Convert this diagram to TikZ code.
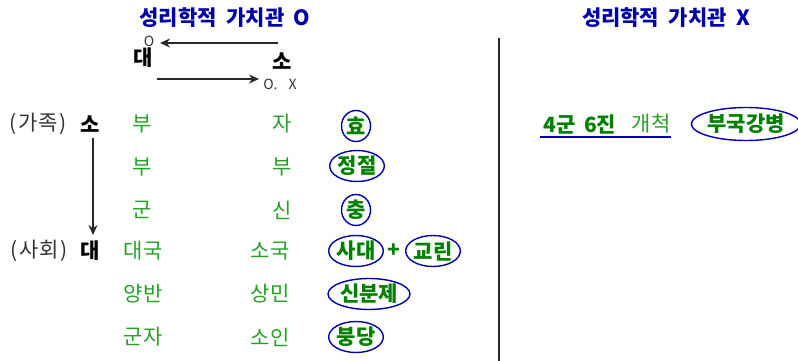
\documentclass[tikz,border=0pt]{standalone}
\usepackage{fontspec}
\setmainfont{Noto Sans CJK KR}
\setsansfont{Noto Sans CJK KR}
\usetikzlibrary{shapes.geometric,arrows.meta}
\definecolor{ttlblue}{RGB}{0,0,165}
\definecolor{elblue}{RGB}{0,0,170}
\definecolor{lgreen}{RGB}{40,160,40}
\definecolor{dgreen}{RGB}{0,128,0}
\definecolor{arr}{RGB}{40,40,40}
\begin{document}
\begin{tikzpicture}[x=1pt,y=-1pt,
  ttl/.style={text=ttlblue,font=\fontsize{21}{21}\selectfont\bfseries,inner sep=0},
  blk/.style={text=black,font=\fontsize{21}{21}\selectfont\bfseries,inner sep=0},
  gry/.style={text=black!80,font=\fontsize{21}{21}\selectfont,inner sep=0},
  sml/.style={text=black!80,font=\fontsize{14}{14}\selectfont,inner sep=0},
  gtxt/.style={text=lgreen,font=\fontsize{21}{21}\selectfont,inner sep=0},
  gbold/.style={text=dgreen,font=\fontsize{21}{21}\selectfont\bfseries,inner sep=0},
  oval/.style={ellipse,draw=elblue,line width=1.4pt,text=dgreen,font=\fontsize{21}{21}\selectfont\bfseries,inner sep=0,minimum height=31pt},
  conn/.style={draw=arr,line width=1.4pt,-{Stealth[length=10pt,width=9pt]}}
]
\useasboundingbox (0,0) rectangle (798,361);
% titles
\node[ttl] (t1) at (225,18) {성리학적\hspace{0.45em}가치관\hspace{0.45em}O};
\node[ttl] (t2) at (666,18) {성리학적\hspace{0.45em}가치관\hspace{0.45em}X};
% top relation
\node[sml] (so) at (149,41) {O};
\node[blk] (tdae) at (143,58) {대};
\node[blk] (tso) at (282,61) {소};
\node[sml] (sox) at (280,84) {O.\hspace{0.8em}X};
\coordinate (a1s) at (278,43);
\coordinate (a1e) at (160,43);
\coordinate (a2s) at (157,79);
\coordinate (a2e) at (259,79);
\draw[conn] (a1s) -- (a1e);
\draw[conn] (a2s) -- (a2e);
% left labels
\node[gry] (fam) at (38,124) {(\hspace{0.1em}가족\hspace{0.1em})};
\node[blk] (lso) at (90,124) {소};
\node[gry] (soc) at (39,251) {(\hspace{0.1em}사회\hspace{0.1em})};
\node[blk] (ldae) at (90,251) {대};
\coordinate (vs) at (93,138);
\coordinate (ve) at (93,235);
\draw[conn] (vs) -- (ve);
% columns
\node[gtxt] (c11) at (142,124) {부};
\node[gtxt] (c12) at (142,167) {부};
\node[gtxt] (c13) at (142,210) {군};
\node[gtxt] (c14) at (143,251) {대국};
\node[gtxt] (c15) at (143,294) {양반};
\node[gtxt] (c16) at (143,337) {군자};
\node[gtxt] (c21) at (282,124) {자};
\node[gtxt] (c22) at (282,167) {부};
\node[gtxt] (c23) at (282,210) {신};
\node[gtxt] (c24) at (270,251) {소국};
\node[gtxt] (c25) at (270,294) {상민};
\node[gtxt] (c26) at (270,337) {소인};
% ovals
\node[oval,minimum width=29pt] (o1) at (356,126) {효};
\node[oval,minimum width=50pt] (o2) at (357,166) {정절};
\node[oval,minimum width=29pt] (o3) at (356,210) {충};
\node[oval,minimum width=49pt] (o4) at (356,251) {사대};
\node[gbold] (plus) at (394,251) {+};
\node[oval,minimum width=50pt] (o5) at (433,251) {교린};
\node[oval,minimum width=75pt] (o6) at (369,294) {신분제};
\node[oval,minimum width=49pt] (o7) at (356,337) {붕당};
% divider
\coordinate (d1) at (499,38);
\coordinate (d2) at (499,361);
\draw[arr,line width=1.4pt] (d1) -- (d2);
% right side
\node[gbold] (sj) at (580,124) {4군\hspace{0.4em}6진};
\node[gtxt] (gc) at (651,124) {개척};
\coordinate (u1) at (540,137);
\coordinate (u2) at (671,137);
\draw[elblue,line width=1.4pt] (u1) -- (u2);
\node[oval,minimum width=100pt,minimum height=33pt] (o8) at (746,124) {부국강병};
\end{tikzpicture}
\end{document}
